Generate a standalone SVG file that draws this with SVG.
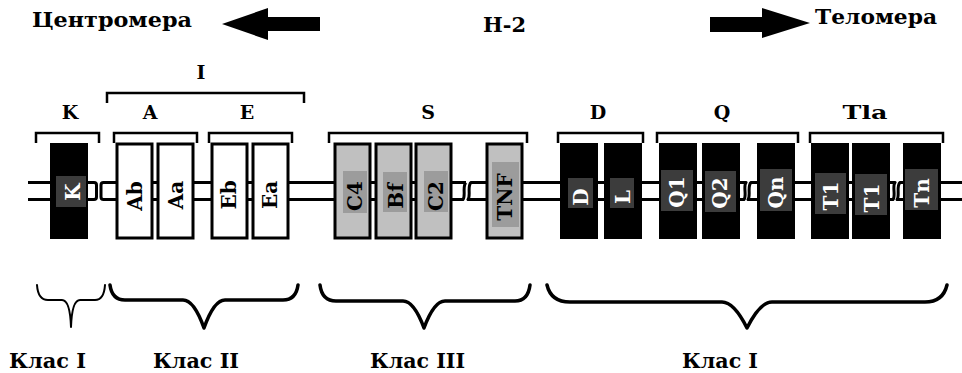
<svg xmlns="http://www.w3.org/2000/svg" width="962" height="373" viewBox="0 0 962 373">
<style>
text{font-family:"DejaVu Serif","Liberation Serif",serif;font-weight:bold;fill:#000}
.title{font-size:20px}
.sec{font-size:19px;text-anchor:middle}
.cls{font-size:21px}
.gl{font-size:20px;text-anchor:middle;dominant-baseline:central}
.w{fill:#fff}
.chr{fill:none;stroke:#000;stroke-width:3;stroke-linejoin:round}
.brk{fill:none;stroke:#000;stroke-width:2.5}
.brace{fill:none;stroke:#000;stroke-width:3.5;stroke-linejoin:round;stroke-linecap:round}
.wbox{fill:#fff;stroke:#000;stroke-width:3}
.gbox{fill:#c0c0c0;stroke:#000;stroke-width:3}
.bbox{fill:#000;stroke:#000;stroke-width:2}
.gin{fill:#9c9c9c}
.bin{fill:#3c3c3c}
</style>
<rect width="962" height="373" fill="#fff"/>

<g id="titles">
<text class="title" x="32" y="27" textLength="160" lengthAdjust="spacingAndGlyphs">Центромера</text>
<polygon points="222,24 268,8 268,17 320,17 320,31 268,31 268,40" fill="#000"/>
<text class="title" x="483" y="32" textLength="43" lengthAdjust="spacingAndGlyphs">H-2</text>
<polygon points="710,17 762,17 762,8 810,23 762,38 762,32 710,32" fill="#000"/>
<text class="title" x="815" y="24" textLength="122" lengthAdjust="spacingAndGlyphs">Теломера</text>
</g>

<g id="brackets">
<path class="brk" d="M107,103 V93 H304 V103"/>
<text class="sec" x="201" y="79">I</text>
<path class="brk" d="M36,143 V133 H99 V143"/>
<path class="brk" d="M114,143 V133 H197 V143"/>
<path class="brk" d="M209,143 V133 H292 V143"/>
<path class="brk" d="M329,143 V133 H527 V143"/>
<path class="brk" d="M558,143 V133 H643 V143"/>
<path class="brk" d="M657,143 V133 H798 V143"/>
<path class="brk" d="M810,143 V133 H943 V143"/>
<text class="sec" x="70" y="119">K</text>
<text class="sec" x="150" y="119">A</text>
<text class="sec" x="247" y="119">E</text>
<text class="sec" x="428" y="119">S</text>
<text class="sec" x="598" y="119">D</text>
<text class="sec" x="722" y="119">Q</text>
<text class="sec" x="865" y="119" textLength="45" lengthAdjust="spacingAndGlyphs">Tla</text>
</g>

<g id="connectors">
<path class="chr" d="M28,182.5 H94 Q96.5,182.5 96.5,185 V197 Q96.5,199.5 94,199.5 H28"/>
<path class="chr" d="M466,182.5 H103.5 Q101,182.5 101,185 V197 Q101,199.5 103.5,199.5 H463 C466,196 462,186 466,182.5"/>
<path class="chr" d="M471,182.5 C467,186 471,196 468,199.5 H744 C747,196 743,186 746,182.5 Z"/>
<path class="chr" d="M751,182.5 C747,186 751,196 748,199.5 H893 C896,196 892,186 895,182.5 Z"/>
<path class="chr" d="M962,182.5 H900 C896,186 900,196 897,199.5 H962"/>
</g>

<g id="gene-K"><rect class="bbox" x="51" y="144" width="36" height="94"/><rect class="bin" x="56" y="176" width="30" height="31"/><text class="gl w" transform="translate(73,192) rotate(-90)">K</text></g>
<g id="gene-Ab"><rect class="wbox" x="117" y="144" width="35" height="94"/><text class="gl" transform="translate(135,196) rotate(-90)">Ab</text></g>
<g id="gene-Aa"><rect class="wbox" x="158" y="144" width="35" height="94"/><text class="gl" transform="translate(176,195) rotate(-90)">Aa</text></g>
<g id="gene-Eb"><rect class="wbox" x="212" y="144" width="35" height="94"/><text class="gl" transform="translate(229,195) rotate(-90)">Eb</text></g>
<g id="gene-Ea"><rect class="wbox" x="253" y="144" width="35" height="94"/><text class="gl" transform="translate(270,195) rotate(-90)">Ea</text></g>

<g id="gene-C4"><rect class="gbox" x="335" y="144" width="35" height="94"/><rect class="gin" x="343" y="171" width="24" height="42"/><text class="gl" transform="translate(355,196) rotate(-90)">C4</text></g>
<g id="gene-Bf"><rect class="gbox" x="376" y="144" width="35" height="94"/><rect class="gin" x="383" y="172" width="24" height="40"/><text class="gl" transform="translate(396,196) rotate(-90)">Bf</text></g>
<g id="gene-C2"><rect class="gbox" x="416" y="144" width="35" height="94"/><rect class="gin" x="424" y="171" width="24" height="41"/><text class="gl" transform="translate(436,196) rotate(-90)">C2</text></g>
<g id="gene-TNF"><rect class="gbox" x="487" y="144" width="35" height="94"/><rect class="gin" x="492" y="162" width="27" height="65"/><text class="gl" transform="translate(505,197) rotate(-90)">TNF</text></g>

<g id="gene-D"><rect class="bbox" x="561" y="144" width="36" height="94"/><rect class="bin" x="568" y="178" width="25" height="30"/><text class="gl w" transform="translate(581,197) rotate(-90)">D</text></g>
<g id="gene-L"><rect class="bbox" x="605" y="144" width="36" height="94"/><rect class="bin" x="610" y="178" width="24" height="30"/><text class="gl w" transform="translate(623,197) rotate(-90)">L</text></g>
<g id="gene-Q1"><rect class="bbox" x="660" y="144" width="36" height="94"/><rect class="bin" x="661" y="170" width="32" height="41"/><text class="gl w" transform="translate(677,192) rotate(-90)">Q1</text></g>
<g id="gene-Q2"><rect class="bbox" x="703" y="144" width="36" height="94"/><rect class="bin" x="705" y="171" width="31" height="41"/><text class="gl w" transform="translate(720,193) rotate(-90)">Q2</text></g>
<g id="gene-Qn"><rect class="bbox" x="758" y="144" width="36" height="94"/><rect class="bin" x="760" y="169" width="32" height="42"/><text class="gl w" transform="translate(776,192.5) rotate(-90)">Qn</text></g>
<g id="gene-T1a"><rect class="bbox" x="812" y="144" width="36" height="94"/><rect class="bin" x="815" y="173" width="31" height="41"/><text class="gl w" transform="translate(831,196) rotate(-90)">T1</text></g>
<g id="gene-T1b"><rect class="bbox" x="853" y="144" width="36" height="94"/><rect class="bin" x="855" y="174" width="32" height="41"/><text class="gl w" transform="translate(872,198) rotate(-90)">T1</text></g>
<g id="gene-Tn"><rect class="bbox" x="904" y="144" width="36" height="94"/><rect class="bin" x="905" y="169" width="33" height="41"/><text class="gl w" transform="translate(922,193) rotate(-90)">Tn</text></g>

<g id="classes">
<path class="brace" style="stroke-width:2" d="M37,285 Q38,300 48,300 L62,300 Q70,300 71,327 Q72,300 80,300 L95,300 Q104,300 105,285"/>
<path class="brace" d="M110,285 Q112,300 125,300 L183,300 Q194,300 204,328 Q214,300 225,300 L283,300 Q296,300 298,285"/>
<path class="brace" d="M320,285 Q322,301 336,301 L403,301 Q414,301 424,328 Q434,301 445,301 L515,301 Q528,301 530,285"/>
<path class="brace" d="M547,285 Q551,302 570,302 L722,302 Q734,302 747,328 Q760,302 772,302 L925,302 Q943,302 947,285"/>
<text class="cls" x="9" y="368" textLength="77" lengthAdjust="spacingAndGlyphs">Клас I</text>
<text class="cls" x="153" y="368" textLength="86" lengthAdjust="spacingAndGlyphs">Клас II</text>
<text class="cls" x="370" y="368" textLength="95" lengthAdjust="spacingAndGlyphs">Клас III</text>
<text class="cls" x="682" y="368" textLength="76" lengthAdjust="spacingAndGlyphs">Клас I</text>
</g>
</svg>
